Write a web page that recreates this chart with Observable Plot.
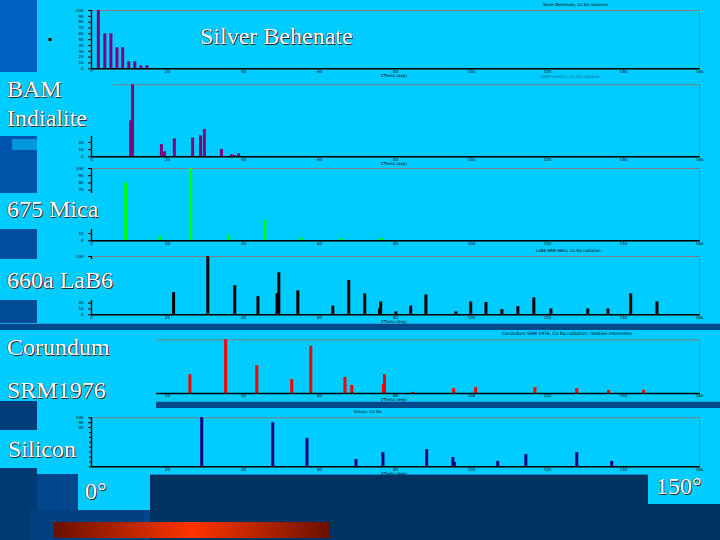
<!DOCTYPE html>
<html><head><meta charset="utf-8">
<script src="https://cdn.jsdelivr.net/npm/d3@7"></script>
<script src="https://cdn.jsdelivr.net/npm/@observablehq/plot@0.6"></script>
<style>
html,body{margin:0;padding:0;background:#00CCFF;}
#slide{position:relative;width:720px;height:540px;background:#00CCFF;overflow:hidden;font-family:"Liberation Serif","Times New Roman",serif;}
.blk{position:absolute;}
.cover{position:absolute;background:#00CCFF;z-index:2;}
.lbl{position:absolute;z-index:3;color:#fff;font-size:24px;line-height:normal;white-space:nowrap;text-shadow:1px 1px 0 #2a2a2a,-0.4px 0 0 #444;}
.tiny{position:absolute;z-index:3;font-family:"DejaVu Sans",sans-serif;font-size:4px;line-height:4px;color:#000;white-space:nowrap;}
.plot{position:absolute;left:0;top:0;z-index:1;}
</style></head>
<body><div id="slide"></div>
<script>
// ---- data (2-theta in degrees, relative intensity in %) ----
const xTicks = [0, 20, 40, 60, 80, 100, 120, 140, 160];
const xTicksFrom20 = [20, 40, 60, 80, 100, 120, 140, 160];
const yTicks = [0, 10, 20, 30, 40, 50, 60, 70, 80, 90, 100];
const yTicksBam = [0, 10, 20];
const yTicksMica = [0, 10, 70, 80, 90, 100];
const yTicksLab6 = [0, 10, 20, 100];
const yTicksCor = [];
const yTicksSi = [80, 90, 100];

const agbehAngles = [1.8, 3.5, 5.1, 6.7, 8.2, 9.8, 11.4, 13.0, 14.6];
const agbehInt    = [100, 60, 60, 36, 36, 12, 12, 5, 5];

const bamAngles = [10.3, 10.8, 18.4, 19.2, 21.8, 26.6, 28.7, 29.7, 34.2, 36.8, 37.6, 38.7];
const bamInt    = [50, 100, 17, 7, 25, 26, 29, 38, 10, 3, 2, 4];

const micaAngles = [9.0, 18.0, 26.1, 36.1, 45.6, 55.3, 65.6, 76.3];
const micaInt    = [80, 6, 100, 7, 28, 3, 3, 3];

const lab6Angles = [21.6, 30.6, 37.7, 43.8, 48.8, 49.3, 54.3, 63.5, 67.7, 71.9, 75.8, 76.1, 80.1, 84.0, 88.0, 95.9, 99.8, 103.8, 108.0, 112.2, 116.4, 120.9, 130.6, 135.9, 141.9, 148.8];
const lab6Int    = [38, 100, 50, 31, 36, 72, 41, 15, 59, 36, 10, 22, 5, 15, 34, 5, 22, 21, 9, 14, 29, 10, 10, 10, 36, 22];

const corAngles = [25.9, 35.3, 43.5, 52.7, 57.7, 66.7, 68.5, 76.8, 77.1, 84.6, 95.3, 101.1, 116.7, 127.7, 136.1, 145.3];
const corInt    = [35, 100, 52, 26, 88, 30, 15, 17, 35, 2, 9, 11, 11, 9, 6, 6];

const siAngles = [29.0, 47.7, 56.7, 69.6, 76.7, 88.2, 95.5, 95.1, 106.9, 114.3, 127.7, 136.9];
const siInt    = [100, 90, 58, 15, 29, 35, 9, 19, 11, 25, 29, 11];

const sampleNames = ["Silver Behenate", "BAM\nIndialite", "675 Mica", "660a LaB6", "Corundum\n\nSRM1976", "Silicon"];
const panelTitles = ["Silver Behenate, Cu K\u03b1 radiation", "BAM Indialite, Cu K\u03b1 radiation", "", "LaB6 SRM 660a, Cu K\u03b1 radiation", "Corundum SRM 1976, Cu K\u03b1 radiation, relative intensities", "Silicon, Cu K\u03b1"];
const axisTitle = "2Theta (deg)";
const rangeLabels = ["0\u00b0", "150\u00b0"];

// ---- layout ----
const slide = document.getElementById("slide");
function div(cls, css, text) {
  const d = document.createElement("div");
  d.className = cls;
  d.style.cssText = css;
  if (text !== undefined) d.textContent = text;
  slide.appendChild(d);
  return d;
}

// decorative background blocks
div("blk", "left:0;top:0;width:37px;height:72px;background:#0062C4;");
div("blk", "left:0;top:136px;width:37px;height:57px;background:#0055AA;");
div("blk", "left:12px;top:139px;width:25px;height:11px;background:#0096DC;");
div("blk", "left:0;top:229px;width:37px;height:30px;background:#004E9E;");
div("blk", "left:0;top:300px;width:37px;height:24px;background:#004C96;");
div("blk", "left:0;top:323px;width:720px;height:7px;background:#004A8C;border-top:1px solid #1FA0E0;box-sizing:border-box;");
div("blk", "left:156px;top:401px;width:564px;height:7px;background:#004A8C;border-top:1px solid #1FA0E0;box-sizing:border-box;");
div("blk", "left:0;top:401px;width:37px;height:29px;background:#003E7A;");
div("blk", "left:0;top:467px;width:37px;height:73px;background:#003A72;");
div("blk", "left:37px;top:474px;width:113px;height:66px;background:#00468C;");
div("blk", "left:30px;top:510px;width:114px;height:30px;background:#004080;");
div("blk", "left:150px;top:474px;width:570px;height:66px;background:#003262;border-top:1px solid #0A8CC8;box-sizing:border-box;");
div("cover", "left:78px;top:474px;width:72px;height:36px;");
div("cover", "left:648px;top:474px;width:72px;height:30px;");
div("blk", "left:54px;top:522px;width:276px;height:16px;background:linear-gradient(to right,#6A1000,#C22800 30%,#FF3300 50%,#C22800 70%,#6A1000);");

// ---- panels ----
const panels = [
  {angles: agbehAngles, ints: agbehInt, color: "#800080", top: 10, bottom: 68.3, yt: yTicks, xt: xTicks},
  {angles: bamAngles, ints: bamInt, color: "#800080", top: 84.3, bottom: 156.3, yt: yTicksBam, xt: xTicks},
  {angles: micaAngles, ints: micaInt, color: "#00FF00", top: 168, bottom: 240.3, yt: yTicksMica, xt: xTicks},
  {angles: lab6Angles, ints: lab6Int, color: "#000000", top: 256, bottom: 314.3, yt: yTicksLab6, xt: xTicks},
  {angles: corAngles, ints: corInt, color: "#FF0000", top: 339.3, bottom: 393, yt: yTicksCor, xt: xTicksFrom20},
  {angles: siAngles, ints: siInt, color: "#000080", top: 417.3, bottom: 466.3, yt: yTicksSi, xt: xTicksFrom20}
];

panels.forEach(p => {
  const rows = p.angles.map((a, i) => ({a, v: p.ints[i]}));
  const svg = Plot.plot({
    width: 720, height: 540,
    marginLeft: 91, marginRight: 21,
    marginTop: p.top, marginBottom: 540 - p.bottom,
    x: {domain: [0, 160]},
    y: {domain: [0, 100]},
    style: {background: "transparent", fontFamily: "DejaVu Sans", fontSize: "4px", color: "#000", overflow: "visible"},
    marks: [
      Plot.frame({stroke: "#808080", strokeWidth: 1}),
      Plot.axisX({ticks: p.xt, tickSize: 1, tickPadding: 0, fontSize: 4, label: null}),
      Plot.axisY({ticks: yTicks, tickSize: 3, tickFormat: () => "", label: null}),
      p.yt.length ? Plot.axisY({ticks: p.yt, tickSize: 0, tickPadding: 8, fontSize: 4, label: null}) : null,
      Plot.ruleX(rows, {x: "a", y1: 0, y2: "v", stroke: p.color, strokeWidth: 3}),
      Plot.ruleY([0], {stroke: "#000", strokeWidth: 1.4}),
      Plot.ruleX([0], {stroke: "#000", strokeWidth: 1.4})
    ]
  });
  svg.classList.add("plot");
  svg.style.pointerEvents = "none";
  slide.appendChild(svg);
});

// covers from the label text boxes
div("cover", "left:0;top:72px;width:113px;height:64px;");
div("cover", "left:0;top:193px;width:106px;height:36px;");
div("cover", "left:0;top:259px;width:118px;height:41px;");
div("cover", "left:0;top:330px;width:156px;height:71px;");
div("cover", "left:0;top:430px;width:89px;height:38px;");

// big labels (top = baseline - 21.4)
div("lbl", "left:200px;top:22.6px;", sampleNames[0]);
div("lbl", "left:7px;top:76.3px;", sampleNames[1].split("\n")[0]);
div("lbl", "left:7px;top:105.3px;", sampleNames[1].split("\n")[1]);
div("lbl", "left:7px;top:195.9px;", sampleNames[2]);
div("lbl", "left:7px;top:267.3px;", sampleNames[3]);
div("lbl", "left:7px;top:333.9px;", sampleNames[4].split("\n")[0]);
div("lbl", "left:7px;top:377.3px;", sampleNames[4].split("\n")[2]);
div("lbl", "left:8px;top:436.3px;", sampleNames[5]);
div("lbl", "left:85px;top:477.9px;", rangeLabels[0]);
div("lbl", "left:656px;top:472.6px;", rangeLabels[1]);

// tiny chart titles and axis titles
div("tiny", "left:543px;top:3px;", panelTitles[0]);
div("tiny", "left:541px;top:75px;color:#1a6f98;", panelTitles[1]);
div("tiny", "left:536px;top:249px;", panelTitles[3]);
div("tiny", "left:502px;top:332px;font-size:4.5px;", panelTitles[4]);
div("tiny", "left:354px;top:410px;", panelTitles[5]);
[73.5, 161.5, 319.5, 398, 472].forEach(t => div("tiny", `left:381px;top:${t}px;`, axisTitle));
div("tiny", "left:48px;top:36px;font-size:6px;line-height:6px;", "\u25aa");
</script>
</body></html>
